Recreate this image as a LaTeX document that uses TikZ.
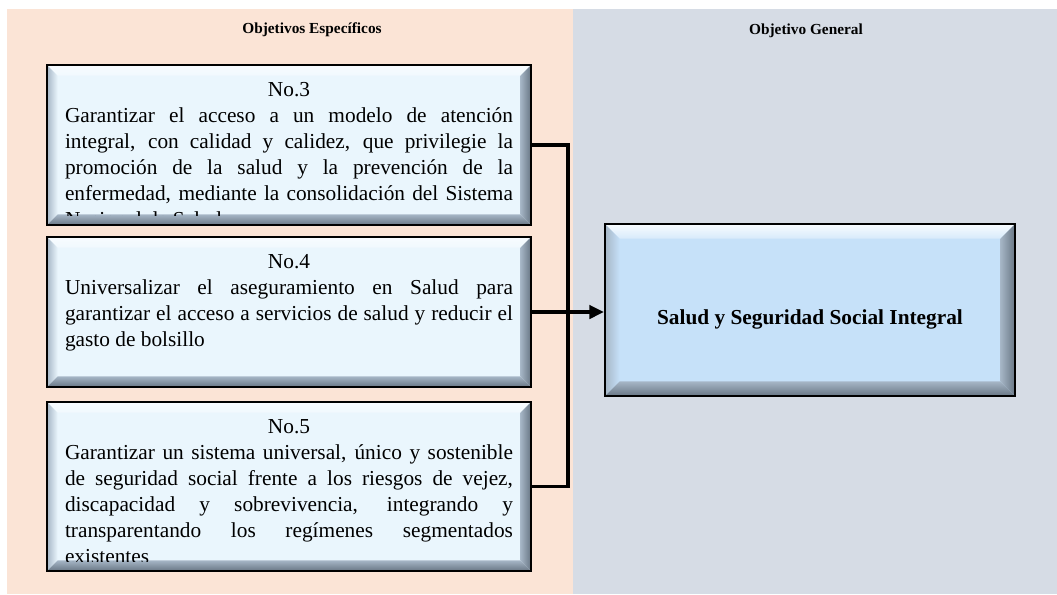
\documentclass[tikz,border=0pt]{standalone}
\usepackage{fontspec}
\setmainfont{Liberation Serif}
\usetikzlibrary{arrows.meta,calc}

\definecolor{peachbg}{RGB}{251,228,214}
\definecolor{greybg}{RGB}{214,220,229}
\definecolor{faceA}{RGB}{234,246,253}
\definecolor{faceB}{RGB}{198,225,249}
\definecolor{bevdark}{RGB}{104,118,132}
\definecolor{bevmid}{RGB}{166,182,198}
\definecolor{bevlight}{RGB}{248,252,255}

\newcommand\bevelfaces[2]{%
  \path (path picture bounding box.north west) coordinate (pNW)
        (path picture bounding box.north east) coordinate (pNE)
        (path picture bounding box.south east) coordinate (pSE)
        (path picture bounding box.south west) coordinate (pSW)
        ($(pNW)+(#1,-#1)$) coordinate (qNW)
        ($(pNE)+(-#1,-#1)$) coordinate (qNE)
        ($(pSE)+(-#1,#1)$) coordinate (qSE)
        ($(pSW)+(#1,#1)$) coordinate (qSW);
  \shade[top color=bevlight, bottom color=#2!70!white] (pNW) -- (pNE) -- (qNE) -- (qNW) -- cycle;
  \shade[left color=bevmid, right color=#2] (pNW) -- (qNW) -- (qSW) -- (pSW) -- cycle;
  \shade[left color=bevmid, right color=bevdark] (pNE) -- (pSE) -- (qSE) -- (qNE) -- cycle;
  \shade[top color=bevmid, bottom color=bevdark] (pSW) -- (pSE) -- (qSE) -- (qSW) -- cycle;
}

\newcommand\boxhead[1]{\hspace*{\fill}#1\hspace*{\fill}\par}

\tikzset{
  paneltitle/.style={font=\fontsize{11.5pt}{13pt}\selectfont\bfseries},
  objbox/.style={draw=black, line width=1.5pt, fill=faceA, minimum width=363pt,
    path picture={\bevelfaces{8pt}{faceA}}},
  goalbox/.style={draw=black, line width=1.5pt, fill=faceB, minimum width=307.5pt,
    minimum height=129pt, path picture={\bevelfaces{11pt}{faceB}}},
  objtext/.style={text width=336pt, align=justify, inner sep=0pt, anchor=north,
    font=\fontsize{16pt}{19.5pt}\selectfont},
  goaltext/.style={font=\fontsize{16pt}{19pt}\selectfont\bfseries},
  link/.style={line width=2.6pt},
}

\begin{document}
\begin{tikzpicture}[x=0.75pt,y=-0.75pt]
\useasboundingbox (0,0) rectangle (1057,594);
\fill[peachbg] (7,9) rectangle (573,594);
\fill[greybg] (573,9) rectangle (1057,594);

\node[paneltitle] (esptitle) at (312,30) {Objetivos Específicos};
\node[paneltitle] (gentitle) at (806,31) {Objetivo General};

\node[objbox, minimum height=120pt] (no3) at (289,145) {};
\node[objbox, minimum height=112.5pt] (no4) at (289,312) {};
\node[objbox, minimum height=126.75pt] (no5) at (289,486.5) {};
\node[goalbox] (goal) at (810,310) {};

\begin{scope}
\clip ($(no3.north west)+(8pt,-8pt)$) rectangle ($(no3.south east)+(-8pt,8pt)$);
\node[objtext] (txt3) at ($(no3.north)+(0,-13.5pt)$) {\boxhead{No.3}
Garantizar el acceso a un modelo de atención\linebreak
integral, con calidad y calidez, que privilegie la\linebreak
promoción de la salud y la prevención de la\linebreak
enfermedad, mediante la consolidación del Sistema\linebreak
Nacional de Salud};
\end{scope}

\begin{scope}
\clip ($(no4.north west)+(8pt,-8pt)$) rectangle ($(no4.south east)+(-8pt,8pt)$);
\node[objtext] (txt4) at ($(no4.north)+(0,-13.5pt)$) {\boxhead{No.4}
Universalizar el aseguramiento en Salud para\linebreak
garantizar el acceso a servicios de salud y reducir el\linebreak
gasto de bolsillo};
\end{scope}

\begin{scope}
\clip ($(no5.north west)+(8pt,-8pt)$) rectangle ($(no5.south east)+(-8pt,8pt)$);
\node[objtext] (txt5) at ($(no5.north)+(0,-13.5pt)$) {\boxhead{No.5}
Garantizar un sistema universal, único y sostenible\linebreak
de seguridad social frente a los riesgos de vejez,\linebreak
discapacidad y sobrevivencia, integrando y\linebreak
transparentando los regímenes segmentados\linebreak
existentes};
\end{scope}

\node[goaltext] (goallbl) at ($(goal.center)+(0,9)$) {Salud y Seguridad Social Integral};

\coordinate (bus) at (568,312);
\draw[link] (no3.east) -- (no3.east -| bus) -- (no5.east -| bus) -- (no5.east);
\draw[link,-{Triangle[length=11pt,width=10pt]}] (no4.east) -- (no4.east -| goal.west);
\end{tikzpicture}
\end{document}
